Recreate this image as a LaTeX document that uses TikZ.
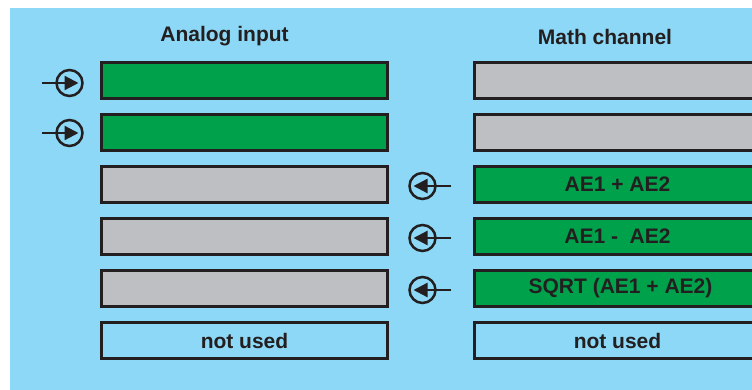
\documentclass[tikz,border=0pt]{standalone}
\usepackage{fontspec}
\setmainfont{Liberation Sans}
\usetikzlibrary{arrows.meta}
\definecolor{bgblue}{HTML}{8DD8F6}
\definecolor{boxgreen}{HTML}{00A14B}
\definecolor{boxgrey}{HTML}{BEBFC3}
\definecolor{ink}{HTML}{231F20}
\tikzset{
  slot/.style={draw=ink, line width=2.6pt, minimum width=286.5pt, minimum height=36.5pt, inner sep=0pt, font=\fontsize{21}{24}\selectfont\bfseries, text=ink},
  greenslot/.style={slot, fill=boxgreen},
  greyslot/.style={slot, fill=boxgrey},
  freeslot/.style={slot, fill=bgblue},
  header/.style={font=\fontsize{21}{24}\selectfont\bfseries, text=ink, inner sep=0pt},
  ring/.style={draw=ink, line width=2.5pt, circle, minimum size=26pt, inner sep=0pt},
  feed/.style={draw=ink, line width=2.3pt, -{Triangle[length=14pt, width=14pt]}}
}
\begin{document}
\begin{tikzpicture}[x=1pt, y=-1pt]
\useasboundingbox (0,0) rectangle (752,390);
\fill[bgblue] (10,8) rectangle (752,390);
\begin{scope}
\clip (10,8) rectangle (752,390);
% headers
\node[header] (hA) at (224.5,36.5) {Analog input};
\node[header] (hM) at (605,36.5) {Math channel};
% analog input column
\node[greenslot] (a1) at (244.5,80.5) {};
\node[greenslot] (a2) at (244.5,132.5) {};
\node[greyslot] (a3) at (244.5,184.5) {};
\node[greyslot] (a4) at (244.5,236.5) {};
\node[greyslot] (a5) at (244.5,288.5) {};
\node[freeslot] (a6) at (244.5,340.5) {not used};
% math channel column
\node[greyslot] (m1) at (617.5,80.5) {};
\node[greyslot] (m2) at (617.5,132.5) {};
\node[greenslot] (m3) at (617.5,184.5) {AE1 + AE2};
\node[greenslot] (m4) at (617.5,236.5) {AE1 -\ \ AE2};
\node[greenslot] (m5) at (617.5,288.5) {\hspace*{6pt}SQRT (AE1 + AE2)};
\node[freeslot] (m6) at (617.5,340.5) {not used};
% input symbols
\node[ring] (r1) at (69.5,83) {};
\node[ring] (r2) at (69.5,133) {};
\coordinate (s1) at (42,83);  \coordinate (t1) at (78.5,83);
\coordinate (s2) at (42,133); \coordinate (t2) at (78.5,133);
\draw[feed] (s1) -- (t1);
\draw[feed] (s2) -- (t2);
% output symbols
\node[ring] (r3) at (422.5,186) {};
\node[ring] (r4) at (422.5,238) {};
\node[ring] (r5) at (422.5,290) {};
\coordinate (s3) at (451,186); \coordinate (t3) at (413.5,186);
\coordinate (s4) at (451,238); \coordinate (t4) at (413.5,238);
\coordinate (s5) at (451,290); \coordinate (t5) at (413.5,290);
\draw[feed] (s3) -- (t3);
\draw[feed] (s4) -- (t4);
\draw[feed] (s5) -- (t5);
\end{scope}
\end{tikzpicture}
\end{document}
